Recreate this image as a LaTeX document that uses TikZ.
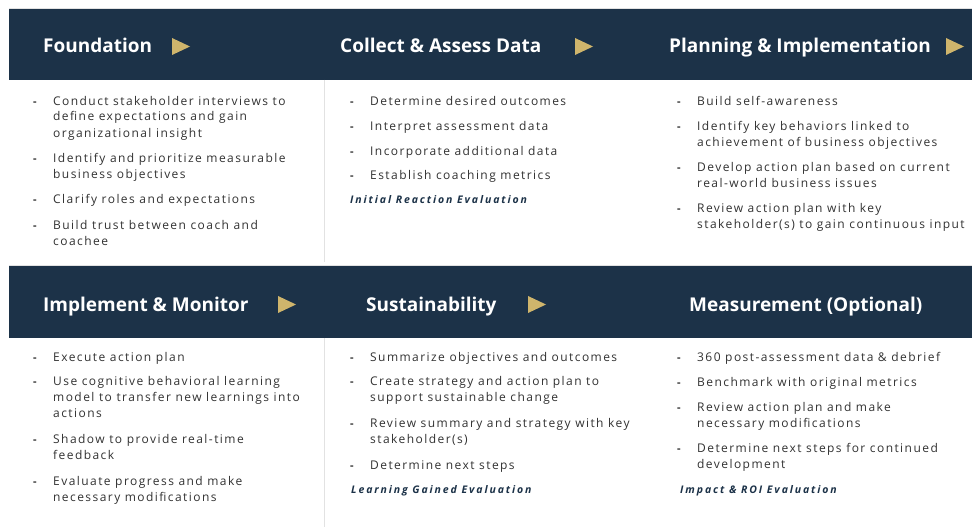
\documentclass[tikz,border=0pt]{standalone}
\usepackage{fontspec}
\newfontfamily\headfont{Open Sans}
\newfontfamily\bodyfont[LetterSpace=12]{Open Sans}
\newfontfamily\evalfont[LetterSpace=18]{Open Sans}
\definecolor{navy}{RGB}{28,50,72}
\definecolor{gold}{RGB}{207,181,108}
\definecolor{bodygray}{RGB}{50,50,50}
\definecolor{sepgray}{RGB}{226,226,226}
\tikzset{
  band/.style={fill=navy, draw=none},
  sepline/.style={draw=sepgray, line width=0.8pt},
  headtxt/.style={anchor=base west, inner sep=0pt, text=white, font=\headfont\bfseries\fontsize{19}{22}\selectfont},
  bodytxt/.style={anchor=base west, inner sep=0pt, text=bodygray, font=\bodyfont\fontsize{12}{14}\selectfont},
  bullet/.style={anchor=base west, inner sep=0pt, text=bodygray, font=\headfont\bfseries\fontsize{11}{12}\selectfont},
  evaltxt/.style={anchor=base west, inner sep=0pt, text=navy, font=\evalfont\bfseries\itshape\fontsize{10.5}{12}\selectfont},
  goldarrow/.style={fill=gold, draw=none}
}
\begin{document}
\begin{tikzpicture}[x=1pt,y=-1pt]
\useasboundingbox (0,0) rectangle (972,527);
\fill[white] (0,0) rectangle (972,527);
% header bands
\fill[band] (9,9) rectangle (972,80);
\fill[band] (9,266) rectangle (972,338);
\draw[sepline] (9,8.6) -- (972,8.6);
\draw[sepline] (9,265.6) -- (972,265.6);
% separators
\draw[sepline] (324,80) -- (324,262);
\draw[sepline] (324,338) -- (324,527);
% top headers
\node[headtxt] (h1) at (43,53) {Foundation};
\fill[goldarrow] (172,38) -- (190,46.5) -- (172,55) -- cycle;
\node[headtxt] (h2) at (340,53) {Collect \& Assess Data};
\fill[goldarrow] (575,38) -- (593,46.5) -- (575,55) -- cycle;
\node[headtxt] (h3) at (669,53) {Planning \& Implementation};
\fill[goldarrow] (946,38) -- (964,46.5) -- (946,55) -- cycle;
% bottom headers
\node[headtxt] (h4) at (43,311) {Implement \& Monitor};
\fill[goldarrow] (278,296) -- (296,304.5) -- (278,313) -- cycle;
\node[headtxt] (h5) at (366,311) {Sustainability};
\fill[goldarrow] (528,296) -- (546,304.5) -- (528,313) -- cycle;
\node[headtxt] (h6) at (689,311) {Measurement (Optional)};
% column 1 top
\foreach \yy/\txt/\bb [count=\i] in {
  101/{Conduct stakeholder interviews to}/1,
  117/{define expectations and gain}/0,
  133/{organizational insight}/0,
  158/{Identify and prioritize measurable}/1,
  174/{business objectives}/0,
  199/{Clarify roles and expectations}/1,
  225/{Build trust between coach and}/1,
  241/{coachee}/0}{
  \node[bodytxt] (a\i) at (53,\yy+4) {\txt};
  \ifnum\bb=1 \node[bullet] (ab\i) at (33,\yy+4) {-};\fi
}
% column 2 top
\foreach \yy/\txt/\bb [count=\i] in {
  101/{Determine desired outcomes}/1,
  126/{Interpret assessment data}/1,
  151/{Incorporate additional data}/1,
  175/{Establish coaching metrics}/1}{
  \node[bodytxt] (b\i) at (370,\yy+4) {\txt};
  \ifnum\bb=1 \node[bullet] (bb\i) at (350,\yy+4) {-};\fi
}
\node[evaltxt] (e1) at (350,203) {Initial Reaction Evaluation};
% column 3 top
\foreach \yy/\txt/\bb [count=\i] in {
  101/{Build self-awareness}/1,
  126/{Identify key behaviors linked to}/1,
  142/{achievement of business objectives}/0,
  167/{Develop action plan based on current}/1,
  183/{real-world business issues}/0,
  208/{Review action plan with key}/1,
  224/{stakeholder(s) to gain continuous input}/0}{
  \node[bodytxt] (c\i) at (697,\yy+4) {\txt};
  \ifnum\bb=1 \node[bullet] (cb\i) at (677,\yy+4) {-};\fi
}
% column 1 bottom
\foreach \yy/\txt/\bb [count=\i] in {
  357/{Execute action plan}/1,
  381/{Use cognitive behavioral learning}/1,
  397/{model to transfer new learnings into}/0,
  413/{actions}/0,
  439/{Shadow to provide real-time}/1,
  455/{feedback}/0,
  481/{Evaluate progress and make}/1,
  497/{necessary modifications}/0}{
  \node[bodytxt] (d\i) at (53,\yy+4) {\txt};
  \ifnum\bb=1 \node[bullet] (db\i) at (33,\yy+4) {-};\fi
}
% column 2 bottom
\foreach \yy/\txt/\bb [count=\i] in {
  357/{Summarize objectives and outcomes}/1,
  381/{Create strategy and action plan to}/1,
  397/{support sustainable change}/0,
  423/{Review summary and strategy with key}/1,
  439/{stakeholder(s)}/0,
  465/{Determine next steps}/1}{
  \node[bodytxt] (f\i) at (370,\yy+4) {\txt};
  \ifnum\bb=1 \node[bullet] (fb\i) at (350,\yy+4) {-};\fi
}
\node[evaltxt] (e2) at (351,493) {Learning Gained Evaluation};
% column 3 bottom
\foreach \yy/\txt/\bb [count=\i] in {
  357/{360 post-assessment data \& debrief}/1,
  382/{Benchmark with original metrics}/1,
  407/{Review action plan and make}/1,
  423/{necessary modifications}/0,
  448/{Determine next steps for continued}/1,
  464/{development}/0}{
  \node[bodytxt] (g\i) at (697,\yy+4) {\txt};
  \ifnum\bb=1 \node[bullet] (gb\i) at (677,\yy+4) {-};\fi
}
\node[evaltxt] (e3) at (680,493) {Impact \& ROI Evaluation};
\end{tikzpicture}
\end{document}
